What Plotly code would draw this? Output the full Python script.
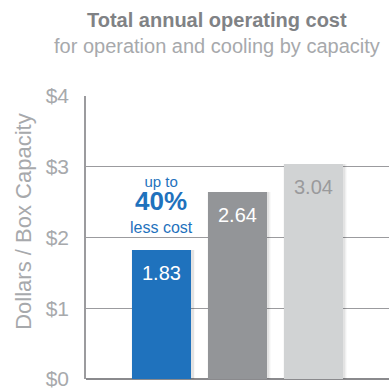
import plotly.graph_objects as go

# Cost per box capacity for the three cooling options
categories = ["A", "B", "C"]
values = [1.83, 2.64, 3.04]
value_labels = ["1.83", "2.64", "3.04"]
bar_colors = ["#1f72bd", "#939598", "#d1d3d4"]
label_colors = ["#ffffff", "#ffffff", "#9a9a9c"]
tick_vals = [0, 1, 2, 3, 4]
tick_text = ["$0", "$1", "$2", "$3", "$4"]

FONT = "Liberation Sans, Arial, Helvetica, sans-serif"
GRID = "#9b9b9e"
TXT = "#a7a9ac"
xpos = list(range(len(categories)))

fig = go.Figure()

# soft drop shadow behind each bar
for w, op in [(0.85, 0.025), (0.82, 0.035), (0.80, 0.05)]:
    fig.add_trace(go.Bar(
        x=[x + 0.02 for x in xpos], y=values, width=w,
        marker=dict(color=f"rgba(0,0,0,{op})", line=dict(width=0)),
        hoverinfo="skip", showlegend=False,
    ))

fig.add_trace(go.Bar(
    x=xpos, y=values, width=0.785,
    marker=dict(color=bar_colors, line=dict(width=0)),
    showlegend=False,
))

annotations = []
for x, v, t, c in zip(xpos, values, value_labels, label_colors):
    annotations.append(dict(
        x=x, y=v, xref="x", yref="y", text=t, showarrow=False,
        yshift=-23, font=dict(family=FONT, size=20, color=c),
    ))

blue = bar_colors[0]
callout = ("<span style='font-size:15px'>up to</span><br>"
           "<b><span style='font-size:26px'>40%</span></b><br>"
           "<span style='font-size:16px'>less cost</span>")
annotations += [
    dict(x=0, y=values[0], xref="x", yref="y", text=callout, showarrow=False,
         yanchor="middle", yshift=45,
         font=dict(family=FONT, size=17.5, color=blue)),
    dict(x=(217 - 86) / 303, y=1, xref="paper", yref="paper", yanchor="middle",
         yshift=76, text="<b>Total annual operating cost</b>", showarrow=False,
         font=dict(family=FONT, size=20, color="#808285")),
    dict(x=(217 - 86) / 303, y=1, xref="paper", yref="paper", yanchor="middle",
         yshift=50, text="for operation and cooling by capacity", showarrow=False,
         font=dict(family=FONT, size=20, color=TXT)),
    dict(x=(24 - 86) / 303, y=(384 - 224) / 288, xref="paper", yref="paper",
         xanchor="center", yanchor="middle", textangle=-90,
         text="Dollars / Box Capacity", showarrow=False,
         font=dict(family=FONT, size=22, color=TXT)),
]

fig.update_layout(
    width=389, height=390,
    margin=dict(l=86, r=0, t=96, b=6),
    paper_bgcolor="white", plot_bgcolor="white",
    barmode="overlay", bargap=0,
    annotations=annotations,
    xaxis=dict(range=[-1, 3], showticklabels=False, showgrid=False,
               zeroline=False, showline=False, fixedrange=True),
    yaxis=dict(range=[0, 4], tickvals=tick_vals, ticktext=tick_text,
               showgrid=True, gridcolor=GRID, gridwidth=1,
               zeroline=True, zerolinecolor="#8a8a8d", zerolinewidth=2,
               showline=True, linecolor=GRID, linewidth=1.5,
               ticks="", ticklabelstandoff=11, ticklabeloverflow="allow",
               tickfont=dict(family=FONT, size=21, color=TXT)),
)

fig.write_html("out.html")
